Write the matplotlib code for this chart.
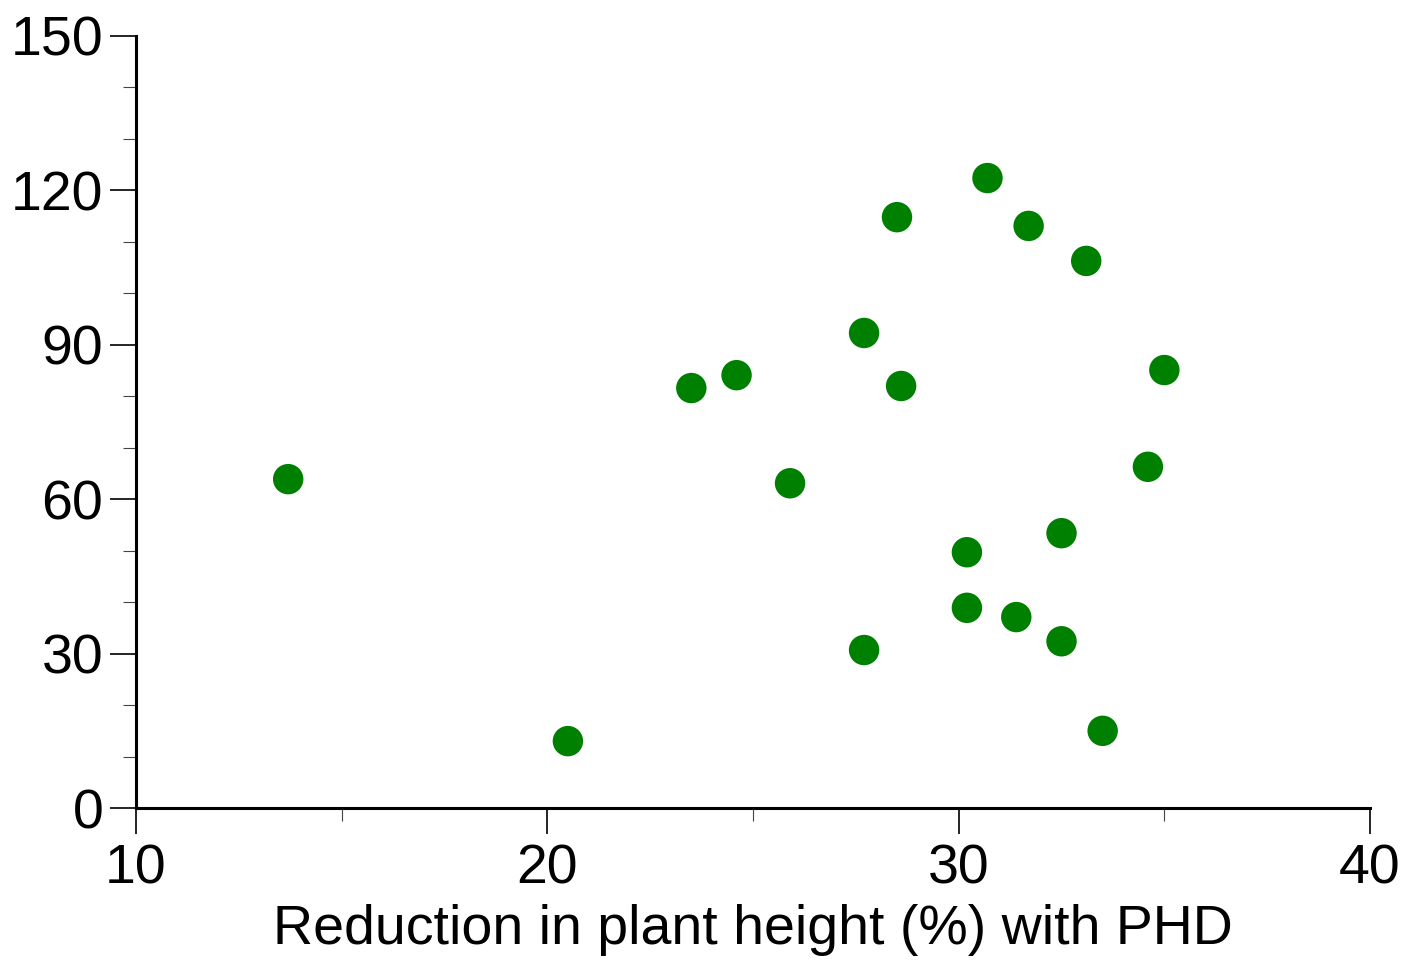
import numpy as np
import matplotlib.pyplot as plt
from matplotlib.ticker import MultipleLocator

plt.rcParams['font.family'] = ['Liberation Sans', 'DejaVu Sans']

# reduction in plant height (%) and the y value for each accession
height_reduction = [13.7, 20.5, 23.5, 24.6, 25.9, 27.7, 27.7, 28.5, 28.6, 30.2,
                    30.2, 30.7, 31.4, 31.7, 32.5, 32.5, 33.1, 33.5, 34.6, 35.0]
y_values = [63.9, 13.0, 81.6, 84.1, 63.1, 92.3, 30.7, 114.8, 82.0, 49.7,
            38.9, 122.4, 37.1, 113.1, 53.4, 32.4, 106.3, 15.0, 66.3, 85.1]

fig = plt.figure(figsize=(14.02, 9.6), dpi=100)
ax = fig.add_axes([0.097, 0.1583, 0.8802, 0.8042])

ax.scatter(height_reduction, y_values, s=480, color='#008000', edgecolors='none',
           clip_on=False, zorder=3)

ax.set_xlim(10, 40)
ax.set_ylim(0, 150)
ax.xaxis.set_major_locator(MultipleLocator(10))
ax.xaxis.set_minor_locator(MultipleLocator(5))
ax.yaxis.set_major_locator(MultipleLocator(30))
ax.yaxis.set_minor_locator(MultipleLocator(10))

ax.spines['top'].set_visible(False)
ax.spines['right'].set_visible(False)
ax.spines['left'].set_linewidth(2.2)
ax.spines['bottom'].set_linewidth(2.2)

ax.tick_params(which='major', length=18.5, width=1.2, color='black', labelsize=40)
ax.tick_params(axis='y', which='major', pad=5)
ax.tick_params(axis='x', which='major', pad=7)
ax.tick_params(which='minor', length=9.5, width=0.8, color='#444444')

ax.set_xlabel('Reduction in plant height (%) with PHD', fontsize=40, labelpad=6)

plt.savefig("out.png", dpi=100)
